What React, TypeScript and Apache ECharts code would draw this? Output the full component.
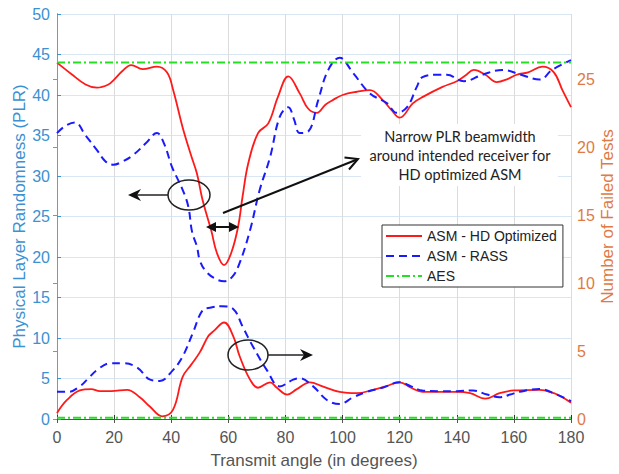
import React, { useEffect, useRef } from "react";
import * as echarts from "echarts";

// ---- data ----
const angleLabelsNote = "Transmit angle (in degrees)";
const seriesNames = ["ASM - HD Optimized", "ASM - RASS", "AES"];

// Physical Layer Randomness (left axis)
const plrHD: [number, number][] = [
  [0, 44.0], [5, 42.6], [10, 41.3], [14, 40.9], [18, 41.3], [20, 41.9], [23, 43.0], [26, 43.7],
  [30, 43.2], [35, 43.5], [38.5, 42.8], [40.7, 40.6], [44, 36], [47, 32.5], [49, 30.3], [51, 27],
  [54, 23.3], [56, 20.5], [58.5, 19.0], [61, 20.5], [63.4, 23.7], [65, 27.5], [67, 31.6], [70.4, 35.3],
  [74, 36.5], [77.4, 39.8], [81, 42.3], [85, 40.2], [88, 38.3], [91, 37.8], [94, 38.8], [96.7, 39.4],
  [100, 40], [105, 40.4], [109.6, 40.6], [114, 39.4], [117, 38.2], [120, 37.2], [124.7, 39.0],
  [128.3, 39.8], [135, 41], [140, 41.7], [143, 42.4], [146, 43.1], [150, 42.5], [154, 41.6], [158, 42.0],
  [161, 42.5], [165, 42.8], [170, 43.5], [174, 42.8], [177, 40.6], [180, 38.5],
];
const plrRASS: [number, number][] = [
  [0, 35.3], [3, 36.2], [6.3, 36.6], [10, 35], [14, 33.2], [17, 31.8], [19.7, 31.4], [23, 31.8],
  [26.7, 32.6], [31, 34], [35, 35.3], [37.5, 34], [40.3, 31.1], [44, 28.3], [46, 26.2], [47.3, 23.1],
  [49, 21.3], [50, 19.6], [52, 18.3], [55, 17.4], [58.5, 17.0], [61.5, 17.6], [64, 19.3], [67.6, 23.3],
  [71, 28.3], [74.6, 32.3], [78, 37.3], [81, 38.5], [83, 37], [85, 35.3], [88, 35.5], [91.5, 39.4],
  [95, 43.1], [99, 44.6], [103.7, 42.7], [109.6, 40.2], [115.5, 39], [119, 37.8], [122.6, 38.5],
  [126, 41], [128, 42.2], [133, 42.5], [136.5, 42.5], [142.5, 41.7], [149, 42.5], [156, 43.1],
  [162.5, 42.5], [169, 41.9], [173.4, 43.1], [180, 44.3],
];
const plrAES: [number, number][] = [[0, 44.0], [180, 44.0]];

// Number of failed tests (right axis)
const failHD: [number, number][] = [
  [0, 0.44], [3.5, 1.4], [8, 2.1], [12, 2.2], [15, 2.05], [19, 2.05], [24.5, 2.15], [29, 1.6],
  [32.6, 0.9], [36.8, 0.2], [40.6, 0.67], [44, 3.1], [47, 4.0], [50, 4.9], [53, 6.1], [55, 6.5],
  [58.5, 7.1], [61.7, 6.1], [64, 4.6], [67.6, 2.9], [70.4, 2.3], [74.6, 2.7], [77, 2.3], [80.6, 1.8],
  [84, 2.2], [88.6, 2.7], [93, 2.4], [99, 2.0], [105, 1.9], [110.7, 2.15], [115, 2.4], [120, 2.7],
  [124, 2.3], [128, 2.0], [135, 2.0], [140, 2.0], [144.7, 1.9], [150, 1.5], [155, 1.9], [160, 2.1],
  [169, 2.15], [174, 1.9], [177, 1.6], [180, 1.2],
];
const failRASS: [number, number][] = [
  [0, 2.0], [4, 2.0], [8, 2.4], [11, 3.0], [14, 3.6], [18.6, 4.1], [23, 4.1], [28, 3.8], [32.6, 2.9],
  [36, 2.8], [40.6, 3.6], [44, 4.6], [47.7, 6.4], [51, 8.0], [54, 8.2], [57.7, 8.3], [61.7, 8.1],
  [65, 6.8], [68.7, 5.3], [73.5, 3.6], [78, 2.4], [82.7, 2.9], [85, 3.0], [89.7, 2.4], [94.5, 1.4],
  [99, 1.1], [103.7, 1.6], [108.6, 2.0], [114, 2.3], [120, 2.7], [124, 2.4], [128, 2.1], [135, 2.05],
  [140, 2.05], [145.7, 2.1], [150.6, 1.8], [155, 1.6], [158.7, 1.8], [162, 2.0], [169, 2.2],
  [175, 1.8], [180, 1.3],
];
const failAES: [number, number][] = [[0, 0.1], [180, 0.1]];

const annotationLines = ["Narrow PLR beamwidth", "around intended receiver for", "HD optimized ASM"];

const FONT = "Liberation Sans, Arial, sans-serif";
const BLUE_AX = "#3b91d2";
const ORANGE_AX = "#e07a45";
const RED = "#ff1a1a";
const BLUE = "#1a1aff";
const GREEN = "#22e022";

export default function App() {
  const ref = useRef<HTMLDivElement>(null);
  useEffect(() => {
    if (!ref.current) return;
    const chart = echarts.init(ref.current, undefined, { renderer: "svg" });
    const lineSeries = (
      name: string,
      data: [number, number][],
      color: string,
      yIdx: number,
      type: any,
      width: number,
      smooth: number | boolean
    ) => ({
      name,
      type: "line",
      xAxisIndex: 0,
      yAxisIndex: yIdx,
      data,
      smooth,
      symbol: "none",
      itemStyle: { color },
      lineStyle: { color, width, type },
      z: 3,
    });
    chart.setOption({
      animation: false,
      backgroundColor: "#ffffff",
      grid: {
        left: 57,
        right: 48,
        top: 14,
        bottom: 55,
        containLabel: false,
        outerBoundsMode: "none",
      },
      legend: {
        data: seriesNames,
        orient: "vertical",
        left: 382,
        top: 225,
        backgroundColor: "#ffffff",
        borderColor: "#333333",
        borderWidth: 1,
        borderRadius: 0,
        padding: [4, 6, 4, 3],
        itemWidth: 36,
        itemHeight: 14,
        itemGap: 6,
        itemStyle: { opacity: 0 },
        textStyle: { fontFamily: FONT, fontSize: 14, color: "#222222" },
      },
      xAxis: [
        {
          type: "value",
          position: "bottom",
          min: 0,
          max: 180,
          interval: 20,
          axisLine: { show: true, lineStyle: { color: "#333333", width: 1 } },
          axisTick: { show: true, inside: true, length: 4, lineStyle: { color: "#333333" } },
          axisLabel: { fontFamily: FONT, fontSize: 16, color: "#555555", margin: 10 },
          splitLine: { show: true, lineStyle: { color: "#dcdcdc", width: 1 } },
          name: angleLabelsNote,
          nameLocation: "middle",
          nameGap: 33,
          nameMoveOverlap: false,
          nameTextStyle: { fontFamily: FONT, fontSize: 17, color: "#555555" },
        },
        {
          type: "value",
          position: "top",
          min: 0,
          max: 180,
          interval: 20,
          axisLine: { show: true, lineStyle: { color: "#555555", width: 1 } },
          axisTick: { show: true, inside: true, length: 4, lineStyle: { color: "#555555" } },
          axisLabel: { show: false },
          splitLine: { show: false },
        },
      ],
      yAxis: [
        {
          type: "value",
          position: "left",
          min: 0,
          max: 50,
          interval: 5,
          axisLine: { show: true, lineStyle: { color: BLUE_AX, width: 1 } },
          axisTick: { show: true, inside: true, length: 4, lineStyle: { color: BLUE_AX } },
          axisLabel: { fontFamily: FONT, fontSize: 16, color: BLUE_AX, margin: 7 },
          splitLine: { show: true, lineStyle: { color: "#d8e6f3", width: 1 } },
          name: "Physical Layer Randomness (PLR)",
          nameLocation: "middle",
          nameGap: 29,
          nameRotate: 90,
          nameMoveOverlap: false,
          nameTextStyle: { fontFamily: FONT, fontSize: 17, color: BLUE_AX },
        },
        {
          type: "value",
          position: "right",
          min: 0,
          max: 29.8,
          interval: 5,
          axisLine: { show: true, lineStyle: { color: ORANGE_AX, width: 1 } },
          axisTick: { show: true, inside: true, length: 4, lineStyle: { color: ORANGE_AX } },
          axisLabel: {
            fontFamily: FONT,
            fontSize: 16,
            color: ORANGE_AX,
            margin: 6,
            showMaxLabel: false,
            formatter: (v: number) => (v % 5 === 0 ? String(v) : ""),
          },
          splitLine: { show: false },
          name: "Number of Failed Tests",
          nameLocation: "middle",
          nameGap: 28,
          nameRotate: 90,
          nameMoveOverlap: false,
          nameTextStyle: { fontFamily: FONT, fontSize: 17, color: ORANGE_AX },
        },
      ],
      series: [
        lineSeries(seriesNames[0], plrHD, RED, 0, "solid", 1.8, 0.4),
        lineSeries(seriesNames[1], plrRASS, BLUE, 0, [8, 5], 2, 0.4),
        lineSeries(seriesNames[2], plrAES, GREEN, 0, [8, 3, 2, 3], 2, false),
        lineSeries(seriesNames[0], failHD, RED, 1, "solid", 1.8, 0.4),
        lineSeries(seriesNames[1], failRASS, BLUE, 1, [8, 5], 2, 0.4),
        lineSeries(seriesNames[2], failAES, GREEN, 1, [8, 3, 2, 3], 2, false),
      ],
      graphic: [
        {
          type: "rect",
          shape: { x: 361, y: 124, width: 197, height: 62 },
          style: { fill: "#ffffff" },
          z: 10,
        },
        {
          type: "text",
          x: 460,
          y: 127,
          z: 11,
          style: {
            text: annotationLines.join("\n"),
            fontFamily: "Lato, sans-serif",
            fontSize: 14.5,
            lineHeight: 19,
            fill: "#222222",
            align: "center",
            verticalAlign: "top",
          },
        },
        // left ellipse + arrow
        {
          type: "ellipse",
          shape: { cx: 189, cy: 195, rx: 21, ry: 15 },
          style: { fill: "none", stroke: "#222222", lineWidth: 1.5 },
          z: 10,
        },
        {
          type: "line",
          shape: { x1: 168, y1: 195, x2: 134, y2: 195 },
          style: { stroke: "#222222", lineWidth: 1.5 },
          z: 10,
        },
        {
          type: "polygon",
          shape: { points: [[128, 195], [141, 189], [137, 195], [141, 201]] },
          style: { fill: "#111111" },
          z: 10,
        },
        // right ellipse + arrow
        {
          type: "ellipse",
          shape: { cx: 248, cy: 355, rx: 20, ry: 15 },
          style: { fill: "none", stroke: "#222222", lineWidth: 1.5 },
          z: 10,
        },
        {
          type: "line",
          shape: { x1: 268, y1: 355, x2: 307, y2: 355 },
          style: { stroke: "#222222", lineWidth: 1.5 },
          z: 10,
        },
        {
          type: "polygon",
          shape: { points: [[313, 355], [300, 349], [304, 355], [300, 361]] },
          style: { fill: "#111111" },
          z: 10,
        },
        // diagonal arrow
        {
          type: "line",
          shape: { x1: 223, y1: 213, x2: 357, y2: 159.5 },
          style: { stroke: "#111111", lineWidth: 2 },
          z: 10,
        },
        {
          type: "polyline",
          shape: { points: [[349, 169.5], [358, 159], [344.5, 157.5]] },
          style: { stroke: "#111111", lineWidth: 2, fill: "none" },
          z: 10,
        },
        // double arrow
        {
          type: "line",
          shape: { x1: 212, y1: 227, x2: 233, y2: 227 },
          style: { stroke: "#111111", lineWidth: 2 },
          z: 10,
        },
        {
          type: "polygon",
          shape: { points: [[206, 227], [216, 222], [216, 232]] },
          style: { fill: "#111111" },
          z: 10,
        },
        {
          type: "polygon",
          shape: { points: [[239, 227], [229, 222], [229, 232]] },
          style: { fill: "#111111" },
          z: 10,
        },
      ],
    });
    return () => chart.dispose();
  }, []);
  return (
    <div
      ref={ref}
      style={{ position: "absolute", left: 0, top: 0, width: 619, height: 474, background: "#fff" }}
    />
  );
}
